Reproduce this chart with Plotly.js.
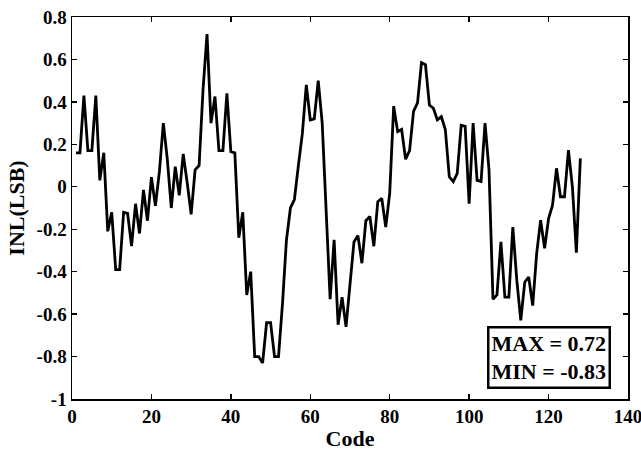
<!DOCTYPE html>
<html>
<head>
<meta charset="utf-8">
<script src="https://cdn.plot.ly/plotly-3.0.1.min.js"></script>
<style>html,body{margin:0;padding:0;background:#fff;}#chart{width:641px;height:452px;}</style>
</head>
<body>
<div id="chart"></div>
<script>
const codes = [];
for (let i = 1; i <= 128; i++) codes.push(i);
const inl = [
  0.16, 0.16, 0.43, 0.17, 0.17, 0.43, 0.03, 0.16, -0.21, -0.12,
  -0.39, -0.39, -0.12, -0.125, -0.28, -0.08, -0.22, -0.015, -0.16, 0.045,
  -0.09, 0.07, 0.30, 0.13, -0.10, 0.095, -0.04, 0.155, 0.02, -0.13,
  0.08, 0.10, 0.46, 0.72, 0.30, 0.425, 0.17, 0.17, 0.44, 0.165,
  0.16, -0.24, -0.12, -0.51, -0.40, -0.80, -0.80, -0.83, -0.64, -0.64,
  -0.80, -0.80, -0.55, -0.25, -0.10, -0.06, 0.10, 0.25, 0.48, 0.315,
  0.32, 0.50, 0.30, -0.10, -0.53, -0.25, -0.65, -0.52, -0.66, -0.46,
  -0.26, -0.23, -0.36, -0.16, -0.14, -0.28, -0.07, -0.055, -0.19, -0.03,
  0.38, 0.26, 0.27, 0.13, 0.17, 0.355, 0.395, 0.585, 0.575, 0.385,
  0.37, 0.315, 0.33, 0.27, 0.047, 0.024, 0.063, 0.29, 0.285, -0.08,
  0.30, 0.03, 0.025, 0.30, 0.08, -0.53, -0.51, -0.26, -0.52, -0.52,
  -0.19, -0.44, -0.63, -0.45, -0.425, -0.56, -0.315, -0.157, -0.29, -0.15,
  -0.087, 0.087, -0.047, -0.047, 0.173, 0.0, -0.31, 0.134
];
const xTickVals = [0, 20, 40, 60, 80, 100, 120, 140];
const xTickText = ['0', '20', '40', '60', '80', '100', '120', '140'];
const yTickVals = [-1, -0.8, -0.6, -0.4, -0.2, 0, 0.2, 0.4, 0.6, 0.8];
const yTickText = ['-1', '-0.8', '-0.6', '-0.4', '-0.2', '0', '0.2', '0.4', '0.6', '0.8'];
const statsText = 'MAX = 0.72<br>MIN = -0.83';

const serif = 'Liberation Serif, Times New Roman, serif';
const trace = {
  x: codes, y: inl, type: 'scatter', mode: 'lines',
  line: {color: '#000', width: 2.8},
  hoverinfo: 'skip'
};
const axisCommon = {
  showline: true, linecolor: '#000', linewidth: 1.5, mirror: 'allticks',
  ticks: 'inside', ticklen: 5, tickwidth: 1.3, tickcolor: '#000',
  showgrid: false, zeroline: false,
  tickfont: {family: serif, size: 19, color: '#000', weight: 'bold'}
};
const layout = {
  width: 641, height: 452,
  margin: {l: 72, r: 13, t: 17, b: 53},
  paper_bgcolor: '#fff', plot_bgcolor: '#fff',
  showlegend: false,
  xaxis: Object.assign({}, axisCommon, {
    range: [0, 140], tickmode: 'array', tickvals: xTickVals, ticktext: xTickText,
    ticklabeloverflow: 'allow',
    title: {text: 'Code', font: {family: serif, size: 22, color: '#000', weight: 'bold'}, standoff: 4}
  }),
  yaxis: Object.assign({}, axisCommon, {
    range: [-1, 0.8], tickmode: 'array', tickvals: yTickVals, ticktext: yTickText,
    title: {text: 'INL(LSB)', font: {family: serif, size: 22, color: '#000', weight: 'bold'}, standoff: 6}
  }),
  annotations: [{
    xref: 'paper', yref: 'paper', x: 0.858, y: 0.108,
    xanchor: 'center', yanchor: 'middle', showarrow: false,
    text: statsText, align: 'left',
    font: {family: serif, size: 22, color: '#000', weight: 'bold'},
    bordercolor: '#000', borderwidth: 2.5, borderpad: 2, bgcolor: '#fff'
  }]
};
Plotly.newPlot('chart', [trace], layout, {displayModeBar: false, staticPlot: true});
</script>
</body>
</html>
